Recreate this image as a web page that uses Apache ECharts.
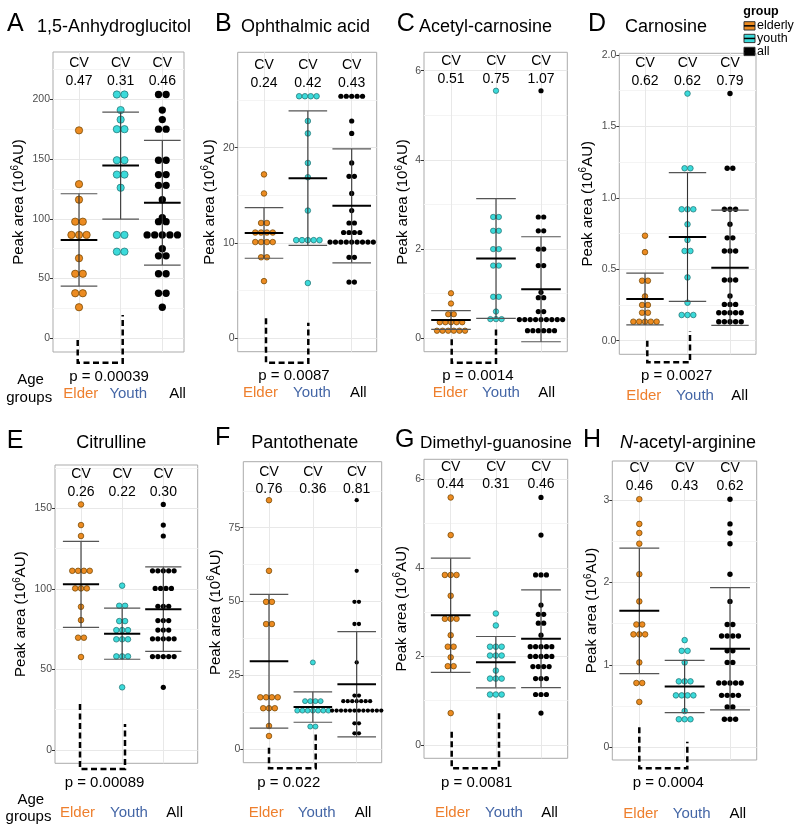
<!DOCTYPE html>
<html><head><meta charset="utf-8">
<script src="https://cdn.jsdelivr.net/npm/echarts@6/dist/echarts.min.js"></script>
<style>html,body{margin:0;padding:0;background:#fff}#c{width:800px;height:825px}</style>
</head><body><div id="c"></div>
<script>
// ---------------- DATA ----------------
const panelLetters = ['A','B','C','D','E','F','G','H'];
const panelTitles = ['1,5-Anhydroglucitol','Ophthalmic acid','Acetyl-carnosine','Carnosine','Citrulline','Pantothenate','Dimethyl-guanosine','{it|N}-acetyl-arginine'];
const groupNames = ['elderly','youth','all'];
const groupLabels = ['Elder','Youth','All'];
const pValues = ['0.00039','0.0087','0.0014','0.0027','0.00089','0.022','0.0081','0.0004'];
const cvElderly = ['0.47','0.24','0.51','0.62','0.26','0.76','0.44','0.46'];
const cvYouth   = ['0.31','0.42','0.75','0.62','0.22','0.36','0.31','0.43'];
const cvAll     = ['0.46','0.43','1.07','0.79','0.30','0.81','0.46','0.62'];
const meanElderly = [82.3, 11.05, 0.41, 0.292, 102.8, 29.8, 2.93, 1.655];
const meanYouth   = [144.5, 16.8, 1.79, 0.726, 72.2, 14.3, 1.87, 0.738];
const meanAll     = [113.5, 13.9, 1.10, 0.511, 87.4, 22.0, 2.40, 1.195];

const A_elderly = [174, 129, 116, 97.6, 97.6, 86.5, 86.5, 86.5, 67, 54, 54, 37.7, 37.7, 26];
const A_youth   = [204, 204, 191, 183, 175, 175, 149, 149, 137, 137, 126, 86.5, 86.5, 72.5, 72.5];
const A_all     = [204, 204, 191, 183, 175, 175, 149, 149, 137, 137, 128, 128, 116, 101, 97.6, 97.6, 86.5, 86.5, 86.5, 86.5, 86.5, 75, 69, 69, 54, 54, 37.7, 37.7, 26];

const B_elderly = [17.2, 15.2, 12.1, 12.1, 11.1, 11.1, 11.1, 11.1, 10.1, 10.1, 10.1, 10.1, 8.5, 8.5, 6.0];
const B_youth   = [25.4, 25.4, 25.4, 25.4, 22.8, 21.5, 18.4, 16.9, 13.4, 10.3, 10.3, 10.3, 10.3, 10.3, 5.8];
const B_all     = [25.4, 25.4, 25.4, 25.4, 25.4, 22.8, 21.5, 18.4, 17.0, 17.0, 15.2, 13.4, 12.1, 12.1, 11.1, 11.1, 11.1, 11.1, 10.1, 10.1, 10.1, 10.1, 10.1, 10.1, 10.1, 10.1, 10.1, 8.5, 8.5, 5.9, 5.9];

const C_elderly = [1.01, 0.78, 0.54, 0.54, 0.36, 0.36, 0.36, 0.36, 0.36, 0.17, 0.17, 0.17, 0.17, 0.17, 0.17];
const C_youth   = [5.55, 2.72, 2.72, 2.41, 2.41, 2.0, 2.0, 1.63, 1.63, 0.93, 0.93, 0.6, 0.43, 0.43, 0.43];
const C_all     = [5.55, 2.72, 2.72, 2.41, 2.41, 2.0, 2.0, 1.63, 1.63, 1.03, 0.91, 0.91, 0.6, 0.6, 0.42, 0.42, 0.42, 0.42, 0.42, 0.42, 0.42, 0.42, 0.42, 0.17, 0.17, 0.17, 0.17, 0.17, 0.17];

const D_elderly = [0.735, 0.62, 0.42, 0.42, 0.31, 0.25, 0.25, 0.196, 0.196, 0.133, 0.133, 0.133, 0.133, 0.133];
const D_youth   = [1.73, 1.207, 1.207, 0.92, 0.92, 0.92, 0.815, 0.705, 0.628, 0.628, 0.443, 0.266, 0.18, 0.18, 0.18];
const D_all     = [1.73, 1.207, 1.207, 0.92, 0.92, 0.92, 0.815, 0.72, 0.72, 0.628, 0.628, 0.628, 0.425, 0.425, 0.425, 0.313, 0.254, 0.254, 0.254, 0.196, 0.196, 0.196, 0.196, 0.196, 0.133, 0.133, 0.133, 0.133, 0.133];

const E_elderly = [152.4, 139.6, 132.8, 111.2, 111.2, 111.2, 111.2, 100.3, 100.3, 100.3, 88.9, 80.6, 69.7, 69.7, 57.7];
const E_youth   = [102, 89.5, 89.5, 80, 80, 74.4, 74.4, 74.4, 68.7, 68.7, 68.7, 58.1, 58.1, 58.1, 38.9];
const E_all     = [152.4, 139.6, 132.8, 111.2, 111.2, 111.2, 111.2, 111.2, 100.3, 100.3, 100.3, 100.3, 89.2, 89.2, 89.2, 80.3, 80.3, 80.3, 74.4, 74.4, 74.4, 69, 69, 69, 69, 69, 58, 58, 58, 58, 58, 38.9];

const F_elderly = [84.3, 60.4, 49.9, 49.9, 42.4, 42.4, 17.6, 17.6, 17.6, 17.6, 13.9, 13.9, 13.9, 7.9, 4.5];
const F_youth   = [29.4, 16.3, 16.3, 16.3, 16.3, 13.1, 13.1, 13.1, 13.1, 13.1, 13.1, 13.1, 7.7, 7.7];
const F_all     = [84.3, 60.4, 49.9, 49.9, 42.4, 42.4, 29.4, 18.2, 18.2, 16.3, 16.3, 16.3, 16.3, 16.3, 16.3, 16.3, 13.1, 13.1, 13.1, 13.1, 13.1, 13.1, 13.1, 13.1, 13.1, 13.1, 13.1, 13.1, 8.8, 8.8, 5.4, 5.4];

const G_elderly = [5.59, 4.74, 3.84, 3.84, 3.84, 3.37, 2.85, 2.85, 2.85, 2.48, 2.22, 2.22, 1.98, 1.78, 1.78, 0.72];
const G_youth   = [2.97, 2.70, 2.22, 2.22, 2.22, 2.02, 2.02, 2.02, 1.68, 1.50, 1.50, 1.50, 1.14, 1.14, 1.14];
const G_all     = [5.59, 4.74, 3.84, 3.84, 3.84, 3.16, 2.95, 2.95, 2.75, 2.75, 2.48, 2.22, 2.22, 2.22, 2.22, 2.22, 2.0, 2.0, 2.0, 2.0, 2.0, 1.77, 1.77, 1.77, 1.77, 1.50, 1.50, 1.50, 1.14, 1.14, 1.14, 0.72];

const H_elderly = [3.01, 2.71, 2.60, 2.47, 2.10, 1.77, 1.49, 1.49, 1.37, 1.37, 1.37, 1.03, 0.78, 0.78, 0.55];
const H_youth   = [1.30, 1.17, 1.17, 1.03, 0.80, 0.80, 0.80, 0.63, 0.63, 0.63, 0.63, 0.44, 0.34, 0.34, 0.34];
const H_all     = [3.01, 2.71, 2.60, 2.47, 2.10, 1.77, 1.49, 1.49, 1.35, 1.35, 1.35, 1.35, 1.17, 1.17, 1.03, 1.03, 0.78, 0.78, 0.78, 0.78, 0.78, 0.63, 0.63, 0.63, 0.63, 0.49, 0.49, 0.34, 0.34, 0.34];

const majorTicks = [[0,50,100,150,200],[0,10,20],[0,2,4,6],[0,0.5,1,1.5,2],[0,50,100,150],[0,25,50,75],[0,2,4,6],[0,1,2,3]];
const minorTicks = [[25,75,125,175,225],[5,15,25],[1,3,5],[0.25,0.75,1.25,1.75],[25,75,125,175],[12.5,37.5,62.5,87.5],[1,3,5],[0.5,1.5,2.5]];
const tickDecimals = [0,0,0,1,0,0,0,0];

// ---------------- LAYOUT (pixels) ----------------
const layout = [
 {rect:[53,52,184,352], cats:[79,162.3], yRef:[[0,338.3],[200,99.3]], dot:[7.3,7.3,7.3], cvY:[63,81], letter:[7,33.3], title:[37,33.3,'left',18], ylabX:19, bracket:[77.7,340,362.7,122.7,315], p:[109,377], groups:[[80.8,128.3,177.5],394.3]},
 {rect:[237.7,52.3,376.7,351.7], cats:[264,351.7], yRef:[[0,338.3],[20,147.7]], dot:[5.6,5.6,5.2], cvY:[65,83.3], letter:[215,33.3], title:[241,33.3,'left',18], ylabX:209.7, bracket:[266,318.3,362.7,308.3,322.7], p:[294,376], groups:[[260.5,312,358.3],393]},
 {rect:[424,52.3,567.3,351.7], cats:[451,541], yRef:[[0,338.3],[6,70.7]], dot:[5.4,5.4,5.2], cvY:[61.5,79.5], letter:[396.7,33.3], title:[419,33.3,'left',18], ylabX:403.3, bracket:[451.7,339.3,362.7,496,328.3], p:[478,376], groups:[[450.3,501,546.7],393]},
 {rect:[619.3,53.3,756,354.3], cats:[645,730], yRef:[[0,340.7],[2,55]], dot:[5.6,5.6,5.4], cvY:[63,81], letter:[588,33.3], title:[625,33.3,'left',18], ylabX:587.5, bracket:[647.3,340.7,362.3,690,331], p:[676.7,376], groups:[[643.8,695,739.7],396]},
 {rect:[55,465,197.7,763.3], cats:[81,163.3], yRef:[[0,750],[150,508.3]], dot:[5.6,5.6,5.2], cvY:[474.3,491.7], letter:[6.7,450], title:[111.3,450,'center',18], ylabX:20.8, bracket:[80,704,769,125,724], p:[104.5,782.7], groups:[[77.5,129,174.7],812.7]},
 {rect:[243.3,461.7,381.7,762.7], cats:[269,356.7], yRef:[[0,749.3],[75,527.7]], dot:[5.6,5.0,4.3], cvY:[471.7,489], letter:[215,446.7], title:[304.7,449.5,'center',18], ylabX:215.7, bracket:[269,747.7,768.3,315.7,734.3], p:[288.8,782.7], groups:[[266.2,316.7,363],812.7]},
 {rect:[424,459.3,567.7,758.3], cats:[450.7,541], yRef:[[0,745],[6,479.3]], dot:[5.6,5.6,5.2], cvY:[466.7,484], letter:[395,449.3], title:[420,449.3,'left',17.2], ylabX:401.7, bracket:[451.7,731.7,768.3,499,712.3], p:[476.7,782.7], groups:[[452.5,504,549.5],812.7]},
 {rect:[612.3,461,756.7,760], cats:[639.3,730], yRef:[[0,747.3],[3,500]], dot:[5.6,5.6,5.4], cvY:[468,486], letter:[583,449.3], title:[620,449.3,'left',18], ylabX:592, bracket:[639.3,727.3,768.3,687.3,741.7], p:[668.3,782.7], groups:[[640.8,691.7,737.8],814.3]}
];

const panelDots = [
 [A_elderly, A_youth, A_all], [B_elderly, B_youth, B_all], [C_elderly, C_youth, C_all], [D_elderly, D_youth, D_all],
 [E_elderly, E_youth, E_all], [F_elderly, F_youth, F_all], [G_elderly, G_youth, G_all], [H_elderly, H_youth, H_all]
];
const panelMeans = [meanElderly, meanYouth, meanAll];
const panelCVs = [cvElderly, cvYouth, cvAll];

const FONT = '"Liberation Sans", Arial, Helvetica, sans-serif';
const dotFill = ['#EC8B21', '#3BDADA', '#000000'];
const dotStroke = ['#6b4200', '#1f6e6e', '#000000'];
const labelColor = ['#EE7F2D', '#4466A6', '#000000'];

const grids = [], xAxes = [], yAxes = [], series = [], graphics = [];

function text(x, y, str, o) {
  o = o || {};
  graphics.push({
    type: 'text', x: x, y: y, rotation: o.rot || 0, z: 100, silent: true,
    style: Object.assign({
      text: str, fontSize: o.size || 14, fontFamily: FONT, fontWeight: o.weight || 'normal',
      fill: o.color || '#000', align: o.align || 'center', verticalAlign: 'middle'
    }, o.extra || {})
  });
}

function dodge(values, cat, dotPx, unitPx) {
  const order = [], counts = {};
  values.forEach(v => { const k = String(v); if (!(k in counts)) { counts[k] = 0; order.push(v); } counts[k]++; });
  const out = [];
  order.forEach(v => {
    const n = counts[String(v)];
    for (let k = 0; k < n; k++) out.push([cat + (k - (n - 1) / 2) * dotPx * 1.04 / unitPx, v]);
  });
  return out;
}

layout.forEach((L, i) => {
  const [l, t, r, b] = L.rect;
  const unit = (L.cats[1] - L.cats[0]) / 2;
  const xmin = -(L.cats[0] - l) / unit, xmax = 2 + (r - L.cats[1]) / unit;
  const [[v0, p0], [v1, p1]] = L.yRef;
  const slope = (p1 - p0) / (v1 - v0);
  const ymin = v0 + (b - p0) / slope, ymax = v0 + (t - p0) / slope;

  grids.push({left: l, top: t, width: r - l, height: b - t, show: true, borderColor: '#ababab', borderWidth: 1, backgroundColor: '#fff', containLabel: false});
  xAxes.push({gridIndex: i, type: 'value', min: xmin, max: xmax, position: 'bottom',
    axisLine: {show: false, onZero: false}, axisTick: {show: false, customValues: [0, 1, 2]}, axisLabel: {show: false},
    splitLine: {show: true, lineStyle: {color: '#e8e8e8', width: 1}}});
  const dec = tickDecimals[i];
  yAxes.push({gridIndex: i, type: 'value', min: ymin, max: ymax, position: 'left',
    axisLine: {show: false, onZero: false},
    axisTick: {show: true, inside: false, length: 3, lineStyle: {color: '#333', width: 1}, customValues: majorTicks[i]},
    axisLabel: {show: true, customValues: majorTicks[i], color: '#4d4d4d', fontSize: 10.5, margin: 3, fontFamily: FONT, formatter: v => Number(v).toFixed(dec)},
    splitLine: {show: true, lineStyle: {color: '#e8e8e8', width: 1}}});
  yAxes.push({gridIndex: i, type: 'value', min: ymin, max: ymax, position: 'right',
    axisLine: {show: false, onZero: false}, axisTick: {show: false, customValues: minorTicks[i]}, axisLabel: {show: false},
    splitLine: {show: true, lineStyle: {color: '#f4f4f4', width: 1}}});

  // dots
  panelDots[i].forEach((vals, g) => {
    series.push({type: 'scatter', xAxisIndex: i, yAxisIndex: 2 * i, name: groupNames[g], symbol: 'circle', symbolSize: L.dot[g],
      silent: true, z: 2,
      itemStyle: {color: dotFill[g], borderColor: dotStroke[g], borderWidth: g < 2 ? 0.7 : 0, opacity: 1},
      data: dodge(vals, g, L.dot[g], unit)});
  });
  // mean +/- SD bars
  series.push({type: 'custom', xAxisIndex: i, yAxisIndex: 2 * i, z: 5, silent: true, clip: true,
    data: [0, 1, 2].map(g => [g, panelMeans[g][i], parseFloat(panelCVs[g][i])]),
    renderItem: function (params, api) {
      const x = api.value(0), m = api.value(1), cv = api.value(2);
      const sd = m * cv, lo = m - sd, hi = m + sd, w = 0.44;
      const pH = api.coord([x, hi]), pL = api.coord([x, lo]), pM = api.coord([x, m]);
      const xl = api.coord([x - w, m])[0], xr = api.coord([x + w, m])[0];
      return {type: 'group', children: [
        {type: 'line', shape: {x1: pH[0], y1: pH[1], x2: pL[0], y2: pL[1]}, style: {stroke: '#333', lineWidth: 1.1}},
        {type: 'line', shape: {x1: xl, y1: pH[1], x2: xr, y2: pH[1]}, style: {stroke: '#555', lineWidth: 1.2}},
        {type: 'line', shape: {x1: xl, y1: pL[1], x2: xr, y2: pL[1]}, style: {stroke: '#555', lineWidth: 1.2}},
        {type: 'line', shape: {x1: xl, y1: pM[1], x2: xr, y2: pM[1]}, style: {stroke: '#000', lineWidth: 2}}
      ]};
    }});

  // texts
  text(L.letter[0], L.letter[1] - 0.36 * 25, panelLetters[i], {size: 25, align: 'left'});
  const ts = L.title[3];
  text(L.title[0], L.title[1] - 0.36 * ts, panelTitles[i], {size: ts, align: L.title[2],
    extra: {rich: {it: {fontSize: ts, fontFamily: FONT, fontStyle: 'italic', fill: '#000'}}}});
  const cy = (t + b) / 2;
  text(L.ylabX, cy, 'Peak area (10{sup|6}AU)', {size: 15, rot: Math.PI / 2,
    extra: {lineHeight: 18, rich: {sup: {fontSize: 10, fontFamily: FONT, fill: '#000', verticalAlign: 'top', lineHeight: 11}}}});
  for (let g = 0; g < 3; g++) {
    const cx = L.cats[0] + g * unit;
    text(cx, L.cvY[0], 'CV', {size: 14});
    text(cx, L.cvY[1], panelCVs[g][i], {size: 14});
    text(L.groups[0][g], L.groups[1], groupLabels[g], {size: 15, color: labelColor[g]});
  }
  const br = L.bracket;
  graphics.push({type: 'polyline', z: 100, silent: true,
    shape: {points: [[br[0], br[1]], [br[0], br[2]], [br[3], br[2]], [br[3], br[4]]]},
    style: {stroke: '#000', lineWidth: 2.5, lineDash: [6, 3.5], fill: null}});
  text(L.p[0], L.p[1], 'p = ' + pValues[i], {size: 15});
});

// "Age groups" row labels
text(30.5, 380, 'Age', {size: 15});
text(29.2, 398, 'groups', {size: 15});
text(30.8, 800, 'Age', {size: 15});
text(28.5, 816.7, 'groups', {size: 15});

// legend
text(743.3, 12, 'group', {size: 12.5, weight: 'bold', align: 'left'});
const keyY = [21.7, 34.3, 47.3];
groupNames.forEach((g, k) => {
  graphics.push({type: 'rect', z: 100, silent: true, shape: {x: 744, y: keyY[k], width: 11, height: 8.3}, style: {fill: dotFill[k], stroke: '#333', lineWidth: 1}});
  graphics.push({type: 'line', z: 101, silent: true, shape: {x1: 744, y1: keyY[k] + 4.15, x2: 755, y2: keyY[k] + 4.15}, style: {stroke: '#000', lineWidth: 1.5}});
  text(757, keyY[k] + 4.2, g, {size: 12.5, align: 'left'});
});

const chart = echarts.init(document.getElementById('c'), null, {renderer: 'canvas'});
chart.setOption({
  animation: false,
  backgroundColor: '#ffffff',
  textStyle: {fontFamily: FONT},
  grid: grids, xAxis: xAxes, yAxis: yAxes, series: series,
  graphic: {elements: graphics}
});
</script>
</body></html>
